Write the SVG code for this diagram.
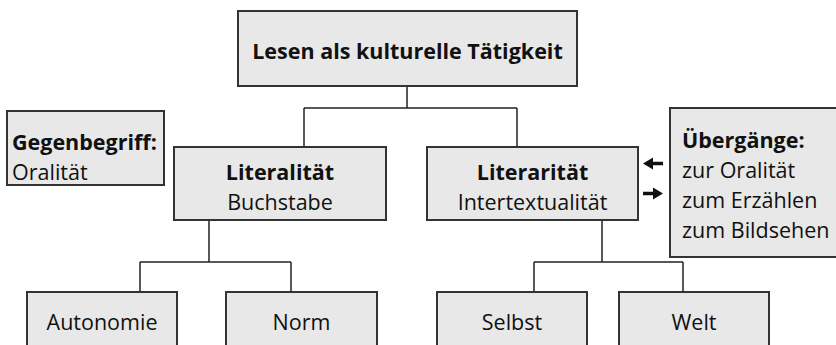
<svg xmlns="http://www.w3.org/2000/svg" width="836" height="345" viewBox="0 0 836 345">
<defs>
<style>
.box{fill:#e8e8e8;stroke:#333;stroke-width:2}
.ln{fill:none;stroke:#222;stroke-width:1.5}
text{font-family:"Open Sans","Noto Sans",sans-serif;font-size:21.5px;fill:#111}
.b{font-weight:bold}
.c{text-anchor:middle}
</style>
</defs>
<rect width="836" height="345" fill="#fff"/>
<g id="connectors">
<path class="ln" d="M407,86 V108 M304,108 H517 M304,108 V147 M517,108 V147"/>
<path class="ln" d="M209,220 V262 M140,262 H291 M140,262 V292 M291,262 V292"/>
<path class="ln" d="M602,220 V262 M534,262 H683 M534,262 V292 M683,262 V292"/>
<path d="M643,163.5 L653,157.5 L653,161.8 L663,161.8 L663,165.2 L653,165.2 L653,169.5 Z" fill="#111"/>
<path d="M663,193.5 L653,187.5 L653,191.8 L643,191.8 L643,195.2 L653,195.2 L653,199.5 Z" fill="#111"/>
</g>
<g id="top">
<rect class="box" x="238" y="11" width="339" height="75"/>
<text class="b c" x="407.5" y="59">Lesen als kulturelle Tätigkeit</text>
</g>
<g id="gegenbegriff">
<rect class="box" x="7" y="111" width="157" height="74"/>
<text class="b" x="12" y="150">Gegenbegriff:</text>
<text x="12" y="180">Oralität</text>
</g>
<g id="literalitaet">
<rect class="box" x="174" y="147" width="212" height="73"/>
<text class="b c" x="280" y="180">Literalität</text>
<text class="c" x="280" y="210">Buchstabe</text>
</g>
<g id="literaritaet">
<rect class="box" x="427" y="147" width="211" height="73"/>
<text class="b c" x="532.5" y="180">Literarität</text>
<text class="c" x="532.5" y="210">Intertextualität</text>
</g>
<g id="uebergaenge">
<rect class="box" x="670" y="108" width="180" height="149"/>
<text class="b" x="682" y="148">Übergänge:</text>
<text x="682" y="178">zur Oralität</text>
<text x="682" y="208">zum Erzählen</text>
<text x="682" y="238">zum Bildsehen</text>
</g>
<g id="autonomie">
<rect class="box" x="27" y="292" width="150" height="70"/>
<text class="c" x="102" y="330">Autonomie</text>
</g>
<g id="norm">
<rect class="box" x="226" y="292" width="151" height="70"/>
<text class="c" x="301.5" y="330">Norm</text>
</g>
<g id="selbst">
<rect class="box" x="437" y="292" width="150" height="70"/>
<text class="c" x="512" y="330">Selbst</text>
</g>
<g id="welt">
<rect class="box" x="619" y="292" width="150" height="70"/>
<text class="c" x="694" y="330">Welt</text>
</g>
</svg>
